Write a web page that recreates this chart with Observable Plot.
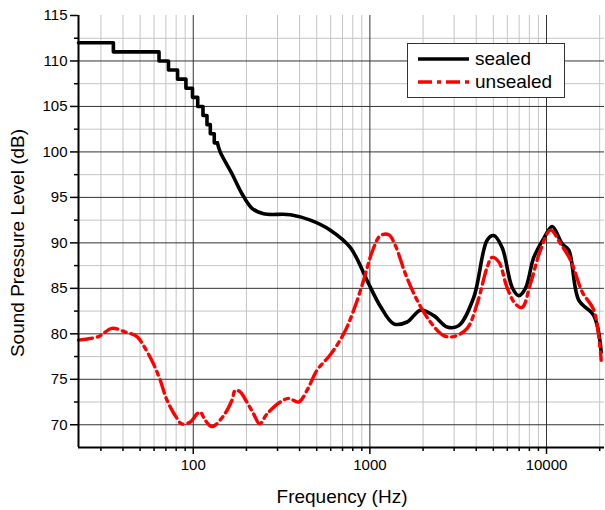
<!DOCTYPE html>
<html><head><meta charset="utf-8">
<script src="https://cdn.jsdelivr.net/npm/d3@7"></script>
<script src="https://cdn.jsdelivr.net/npm/@observablehq/plot@0.6"></script>
<style>
body{margin:0;background:#fff;}
#chart{position:relative;width:605px;height:510px;font-family:"Liberation Sans",Arial,sans-serif;}
#legend{position:absolute;left:407px;top:43px;width:156px;height:53px;border:1px solid #333;background:#fff;}
.lrow{position:absolute;left:9px;height:22px;display:flex;align-items:center;font-size:19px;color:#000;}
.lrow svg{margin-right:5px;}
</style></head><body><div id="chart"><div id="legend"></div></div>
<script>
// ---- data ----
const seriesNames = ["sealed", "unsealed"];
const sealedFreq = [22.4, 35.3, 35.3, 64, 64, 72.4, 72.4, 81.5, 81.5, 90.9, 90.9, 99, 99, 106, 106, 113.5, 113.5, 119.6, 119.6, 124.9, 124.9, 131.5, 131.5, 137, 142, 165.6, 188.7, 215, 250, 355, 460, 597, 774, 984, 1148, 1365, 1625, 1933, 2300, 2738, 3186, 3873, 4611, 5023, 5606, 6393, 6966, 7600, 8472, 9657, 10770, 12270, 13370, 15230, 18530, 20400];
const sealedDb = [112, 112, 111, 111, 110, 110, 109, 109, 108, 108, 107, 107, 106, 106, 105, 105, 104, 104, 103, 103, 102, 102, 101, 101, 100, 97.6, 95.4, 93.8, 93.2, 93.1, 92.5, 91.4, 89.5, 85.5, 83, 81.1, 81.3, 82.6, 82.0, 80.75, 80.9, 84.0, 90.3, 90.8, 89.5, 85.1, 84.2, 85.0, 88.4, 90.5, 91.8, 89.9, 89.2, 83.7, 82.0, 78.0];
const sealedStepCount = 24; // points forming the stepped low-frequency part
const unsealedFreq = [22.4, 29.1, 34.6, 41.2, 48, 52.3, 59.5, 65, 71, 80.9, 86, 96.2, 105, 109.5, 116.9, 127.6, 148.5, 165.6, 173, 184.6, 201, 219.6, 237.6, 261.6, 311, 347, 395, 441, 502, 597, 711, 810, 922, 1029, 1147, 1279, 1394, 1589, 1850, 2201, 2618, 2985, 3554, 4048, 4611, 4921, 5370, 5975, 6664, 7272, 8110, 9245, 10540, 12000, 13680, 15930, 18530, 20400];
const unsealedDb = [79.3, 79.7, 80.6, 80.2, 79.7, 78.7, 76.7, 74.9, 72.7, 70.7, 70.1, 70.3, 71.2, 71.4, 70.5, 69.8, 71.0, 72.7, 73.8, 73.6, 72.5, 71.2, 70.1, 71.2, 72.5, 72.9, 72.5, 73.8, 76.0, 77.7, 80.0, 82.6, 85.9, 89.0, 90.8, 90.9, 89.7, 86.6, 83.7, 81.3, 79.8, 79.7, 80.6, 83.3, 87.3, 88.4, 87.9, 85.1, 83.3, 82.9, 85.5, 89.2, 91.4, 89.9, 88.1, 84.6, 82.6, 77.1];
const xDomain = [22.4, 21300];
const yDomain = [67.5, 115];
const xMajorTicks = [100, 1000, 10000];
const xMinorTicks = [30, 40, 50, 60, 70, 80, 90, 200, 300, 400, 500, 600, 700, 800, 900, 2000, 3000, 4000, 5000, 6000, 7000, 8000, 9000, 20000];
const yMajorTicks = [70, 75, 80, 85, 90, 95, 100, 105, 110, 115];
const yMinorTicks = [72.5, 77.5, 82.5, 87.5, 92.5, 97.5, 102.5, 107.5, 112.5];
const xLabel = "Frequency (Hz)";
const yLabel = "Sound Pressure Level (dB)";

const colors = {sealed: "#000000", unsealed: "#ff0000"};
const dash = {sealed: null, unsealed: "14,5,4,5"};

const stepF = sealedFreq.slice(0, sealedStepCount), stepD = sealedDb.slice(0, sealedStepCount);
const smoothF = sealedFreq.slice(sealedStepCount - 1), smoothD = sealedDb.slice(sealedStepCount - 1);

const plot = Plot.plot({
  width: 605, height: 510,
  marginLeft: 78, marginRight: 1, marginTop: 15, marginBottom: 63,
  style: {fontFamily: '"Liberation Sans", Arial, sans-serif', fontSize: "15px", color: "#000", background: "#fff", overflow: "visible"},
  x: {type: "log", domain: xDomain},
  y: {domain: yDomain},
  marks: [
    Plot.ruleX(xMinorTicks, {stroke: "#c4c4c4", strokeWidth: 1}),
    Plot.ruleY(yMinorTicks, {stroke: "#c4c4c4", strokeWidth: 1}),
    Plot.ruleX(xMajorTicks, {stroke: "#333", strokeWidth: 1}),
    Plot.ruleY(yMajorTicks.filter(d => d < yDomain[1]), {stroke: "#333", strokeWidth: 1}),
    Plot.line(stepF, {x: stepF, y: stepD, stroke: colors.sealed, strokeWidth: 3.6, strokeLinejoin: "round", strokeLinecap: "round"}),
    Plot.line(smoothF, {x: smoothF, y: smoothD, curve: "catmull-rom", stroke: colors.sealed, strokeWidth: 3.6, strokeLinejoin: "round", strokeLinecap: "round"}),
    Plot.line(unsealedFreq, {x: unsealedFreq, y: unsealedDb, curve: "catmull-rom", stroke: colors.unsealed, strokeWidth: 3.4, strokeDasharray: dash.unsealed, strokeLinejoin: "round"}),
    Plot.axisX(xMajorTicks, {tickSize: 7, tickPadding: 5, strokeWidth: 1.5, tickFormat: d => String(d), label: null, fontSize: 15}),
    Plot.axisX(xMinorTicks, {tickSize: 4, strokeWidth: 1.5, tickFormat: () => "", label: null}),
    Plot.axisY(yMajorTicks, {tickSize: 8, tickPadding: 3, strokeWidth: 1.5, tickFormat: d => String(d), label: null, fontSize: 15}),
    Plot.axisY(yMinorTicks, {tickSize: 4, strokeWidth: 1.5, tickFormat: () => "", label: null}),
    Plot.ruleY([yDomain[0]], {stroke: "#000", strokeWidth: 2}),
    Plot.ruleX([xDomain[0]], {stroke: "#000", strokeWidth: 2})
  ]
});

const chart = document.getElementById("chart");
chart.insertBefore(plot, chart.firstChild);

const svg = d3.select(plot);
svg.append("text").attr("x", 342).attr("y", 498).attr("text-anchor", "middle").attr("dominant-baseline", "middle")
  .attr("font-size", 19).attr("fill", "#000").text(xLabel);
svg.append("text").attr("transform", "translate(19,243) rotate(-90)").attr("text-anchor", "middle").attr("dominant-baseline", "middle")
  .attr("font-size", 19).attr("fill", "#000").text(yLabel);

const legend = document.getElementById("legend");
seriesNames.forEach((name, i) => {
  const row = document.createElement("div");
  row.className = "lrow";
  row.style.top = (4 + i * 23) + "px";
  row.innerHTML = `<svg width="53" height="8"><line x1="1" y1="4" x2="52" y2="4" stroke="${colors[name]}" stroke-width="3.6" ${dash[name] ? `stroke-dasharray="${dash[name]}"` : ""}/></svg><span>${name}</span>`;
  legend.appendChild(row);
});
</script>
</body></html>
